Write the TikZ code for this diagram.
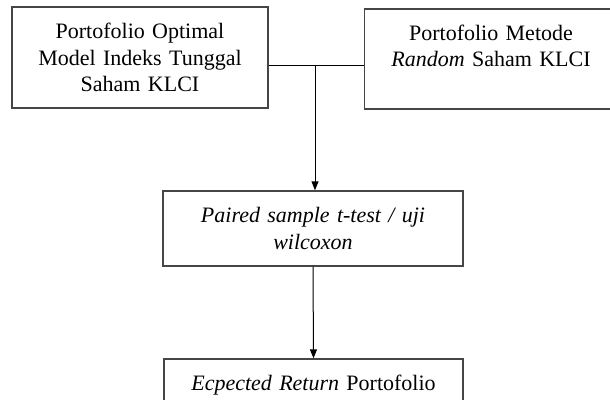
\documentclass[tikz,border=0pt]{standalone}
\usepackage{fontspec}
\setmainfont{Liberation Serif}
\usetikzlibrary{arrows.meta,positioning}
\definecolor{boxgray}{RGB}{70,70,70}
\tikzset{
 kotak/.style={draw=boxgray,line width=1.4pt,inner sep=0pt,align=center,
  font=\fontsize{22}{26.5}\selectfont},
 panah/.style={->,line width=1pt}
}

\begin{document}
\begin{tikzpicture}[x=1pt,y=1pt,>={Triangle[length=9pt,width=7pt]},line join=miter]
 \clip (0,0) rectangle (610,399);
 \node[kotak,text width=256pt,minimum height=101pt] (optimal)
  at (140,341.5) {Portofolio Optimal\\ Model Indeks Tunggal\\ Saham KLCI};
 \node[kotak,text width=253pt,minimum height=100pt] (random)
  at (491,340) {Portofolio Metode\\ \textit{Random} Saham KLCI\\ \mbox{}};
 \node[kotak,text width=300pt,minimum height=75pt] (uji)
  at (313,170.5) {\textit{Paired sample t-test / uji}\\ \textit{wilcoxon}};
 \node[kotak,text width=299pt,minimum height=75pt] (hasil)
  at (313.5,2.5) {\textit{Ecpected Return} Portofolio\\ \mbox{}};
 \coordinate (temu) at (315,333);
 \draw[line width=1pt] (optimal.east |- temu) -- (random.west |- temu);
 \draw[panah] (temu) -- (temu |- uji.north);
 \draw[panah] (uji.south) -- (hasil.north);
\end{tikzpicture}
\end{document}
